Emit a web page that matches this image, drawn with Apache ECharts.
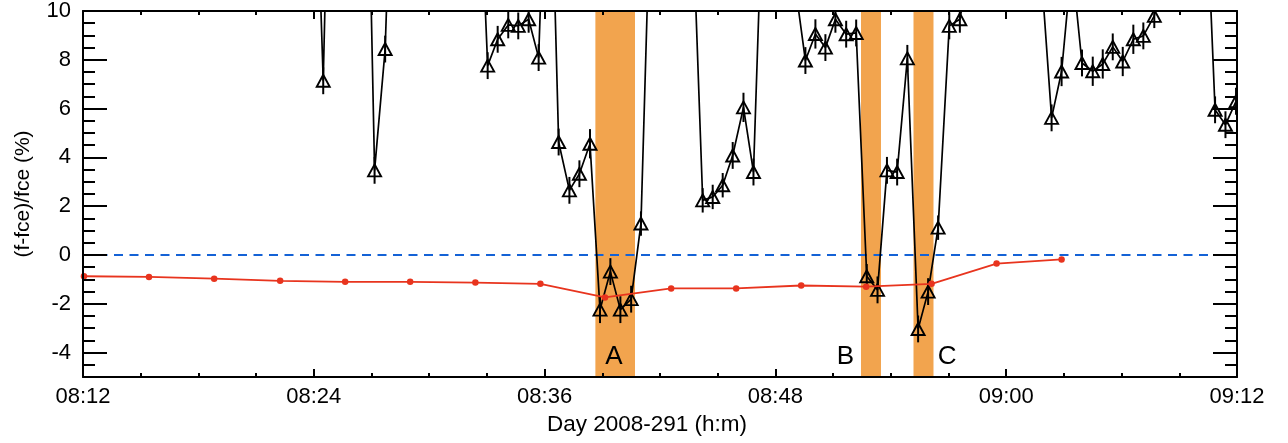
<!DOCTYPE html>
<html><head><meta charset="utf-8">
<script src="https://cdn.jsdelivr.net/npm/echarts@6/dist/echarts.min.js"></script>
<style>html,body{margin:0;padding:0;background:#fff}#c{width:1288px;height:443px}</style>
</head><body><div id="c"></div>
<script>
// minutes after 08:12 (Day 2008-291)
const xTickLabels = ['08:12','08:24','08:36','08:48','09:00','09:12'];
const yTickValues = [-4,-2,0,2,4,6,8,10];

const redTimes  = [0.05,3.43,6.82,10.25,13.63,17.01,20.40,23.78,27.14,30.58,33.96,37.34,40.72,44.12,47.50,50.88];
const redValues = [-0.87,-0.90,-0.97,-1.06,-1.10,-1.10,-1.13,-1.18,-1.74,-1.37,-1.37,-1.25,-1.30,-1.18,-0.35,-0.18];

const blackTimes = [11.96,12.49,13.02,13.55,14.08,14.61,15.16,15.71,16.24,20.51,21.04,21.56,22.11,22.63,23.17,23.69,24.21,24.73,25.29,25.81,26.36,26.88,27.42,27.94,28.50,29.01,29.55,31.69,32.22,32.74,33.26,33.78,34.34,34.86,35.39,37.04,37.56,38.08,38.60,39.12,39.68,40.20,40.75,41.31,41.80,42.33,42.86,43.42,43.94,44.46,45.04,45.59,46.12,49.83,50.36,50.88,51.41,51.94,52.50,53.02,53.54,54.06,54.61,55.13,55.70,56.23,58.33,58.86,59.40,59.95];
const blackValues = [20,7.14,25,28,27,24.5,3.47,8.44,21,17.7,7.76,8.84,9.43,9.39,9.66,8.09,20,4.63,2.65,3.33,4.56,-2.24,-0.68,-2.24,-1.81,1.29,16,14,2.24,2.38,2.86,4.08,6.05,3.40,16,11,7.97,9.06,8.50,9.66,9.05,9.10,-0.87,-1.43,3.47,3.40,8.06,-3.03,-1.50,1.12,9.39,9.66,12,11.5,5.62,7.52,12,7.87,7.53,7.83,8.53,7.93,8.84,8.98,9.80,12,16,5.95,5.34,6.3];
const blackErrors = [0.5,0.55,0.5,0.5,0.5,0.5,0.55,0.55,0.5,0.5,0.55,0.55,0.55,0.55,0.55,0.55,0.5,0.55,0.55,0.55,0.6,0.55,0.55,0.55,0.55,0.5,0.5,0.5,0.5,0.5,0.5,0.55,0.6,0.55,0.5,0.5,0.55,0.6,0.55,0.55,0.55,0.55,0.5,0.55,0.55,0.55,0.55,0.55,0.55,0.5,0.55,0.55,0.5,0.5,0.55,0.6,0.5,0.55,0.6,0.6,0.55,0.6,0.6,0.55,0.5,0.5,0.5,0.55,0.55,0.55];

const bandStarts = [26.64,40.45,43.18];
const bandEnds   = [28.70,41.49,44.22];
const bandNames  = ['A','B','C'];
const labelTimes  = [27.60,39.64,44.93];
const labelValues = [-4.16,-4.16,-4.16];

const FONT = 'Liberation Sans, Arial, Helvetica, sans-serif';
const chart = echarts.init(document.getElementById('c'), null, {renderer:'canvas'});

const xCommon = (pos, showLabel) => ({
  type:'value', min:0, max:60, interval:12, position:pos, z:10,
  axisLine:{show:true, onZero:false, lineStyle:{color:'#000', width:2}},
  axisTick:{show:true, inside:true, length:8, lineStyle:{color:'#000', width:2}},
  minorTick:{show:true, splitNumber:4, length:4, lineStyle:{color:'#000', width:2}},
  splitLine:{show:false}, minorSplitLine:{show:false},
  axisLabel:{show:showLabel, margin:9, fontFamily:FONT, fontSize:22, color:'#000',
    formatter:(v)=>xTickLabels[Math.round(v/12)]}
});
const yMinor = (pos, showLabel) => ({
  type:'value', min:-5, max:10, interval:0.5, position:pos, z:10,
  axisLine:{show:true, onZero:false, lineStyle:{color:'#000', width:2}},
  axisTick:{show:true, inside:true, length:12, lineStyle:{color:'#000', width:2}},
  splitLine:{show:false},
  axisLabel:{show:showLabel, customValues:yTickValues, margin:12, fontFamily:FONT, fontSize:22, color:'#000'}
});
const yMajor = (pos) => ({
  type:'value', min:-5, max:10, interval:0.5, position:pos, offset:0, z:10,
  axisLine:{show:false, onZero:false},
  axisTick:{show:true, inside:true, length:24, customValues:yTickValues, lineStyle:{color:'#000', width:2}},
  splitLine:{show:false}, axisLabel:{show:false}
});

const xAxes = [xCommon('bottom', true), xCommon('top', false)];
xAxes[0].name = 'Day 2008-291 (h:m)';
xAxes[0].nameLocation = 'middle';
xAxes[0].nameGap = 33;
xAxes[0].nameTextStyle = {fontFamily:FONT, fontSize:22.5, color:'#000', padding:[0,26,0,0]};

const yAxes = [yMinor('left', true), yMajor('left'), yMinor('right', false), yMajor('right')];
yAxes[0].name = '(f-fce)/fce (%)';
yAxes[0].nameLocation = 'middle';
yAxes[0].nameGap = 49;
yAxes[0].nameRotate = 90;
yAxes[0].nameTextStyle = {fontFamily:FONT, fontSize:21, color:'#000'};

chart.setOption({
  animation:false,
  backgroundColor:'#fff',
  grid:{left:83, right:51, top:10, bottom:66, containLabel:false},
  xAxis:xAxes,
  yAxis:yAxes,
  series:[
    { // orange event bands
      type:'custom', z:1, xAxisIndex:0, yAxisIndex:0,
      data: bandStarts.map((s,i)=>[s, bandEnds[i]]),
      encode:{x:[0,1]},
      renderItem:(params, api)=>{
        const a = api.coord([api.value(0), 0]);
        const b = api.coord([api.value(1), 0]);
        const cs = params.coordSys;
        return {type:'rect', shape:{x:a[0], y:cs.y, width:b[0]-a[0], height:cs.height},
          style:{fill:'#f2a44e'}};
      }
    },
    { // zero reference
      type:'line', z:2, xAxisIndex:0, yAxisIndex:0, symbol:'none', silent:true,
      data:[[0,0],[60,0]],
      lineStyle:{color:'#1462d6', width:2, type:[9,6.5]}
    },
    { // black line
      type:'line', z:3, xAxisIndex:0, yAxisIndex:0, symbol:'none', clip:true,
      data: blackTimes.map((t,i)=>[t, blackValues[i]]),
      lineStyle:{color:'#000', width:1.7}
    },
    { // triangles with error bars
      type:'custom', z:4, xAxisIndex:0, yAxisIndex:0, clip:true,
      data: blackTimes.map((t,i)=>[t, blackValues[i], blackErrors[i]]),
      encode:{x:0, y:1},
      renderItem:(params, api)=>{
        const x = api.value(0), y = api.value(1), e = api.value(2);
        const c = api.coord([x,y]);
        const top = api.coord([x, y+e]);
        const bot = api.coord([x, y-e]);
        const w = 6.5, h = 6;
        return {type:'group', children:[
          {type:'line', shape:{x1:c[0], y1:top[1], x2:c[0], y2:bot[1]}, style:{stroke:'#000', lineWidth:2}},
          {type:'polygon', shape:{points:[[c[0], c[1]-h],[c[0]-w, c[1]+h],[c[0]+w, c[1]+h]]},
            style:{fill:'transparent', stroke:'#000', lineWidth:1.9}}
        ]};
      }
    },
    { // red series
      type:'line', z:5, xAxisIndex:0, yAxisIndex:0, symbol:'circle', symbolSize:6.5, clip:true,
      data: redTimes.map((t,i)=>[t, redValues[i]]),
      lineStyle:{color:'#e8341e', width:1.8},
      itemStyle:{color:'#e8341e'}
    },
    { // band labels
      type:'scatter', z:6, xAxisIndex:0, yAxisIndex:0, symbolSize:1,
      itemStyle:{color:'transparent', opacity:1},
      data: labelTimes.map((t,i)=>({name:bandNames[i], value:[t, labelValues[i]]})),
      label:{show:true, position:'inside', formatter:'{b}', fontFamily:FONT, fontSize:26,
        color:'#000', opacity:1, textBorderWidth:0}
    }
  ]
});
</script>
</body></html>
